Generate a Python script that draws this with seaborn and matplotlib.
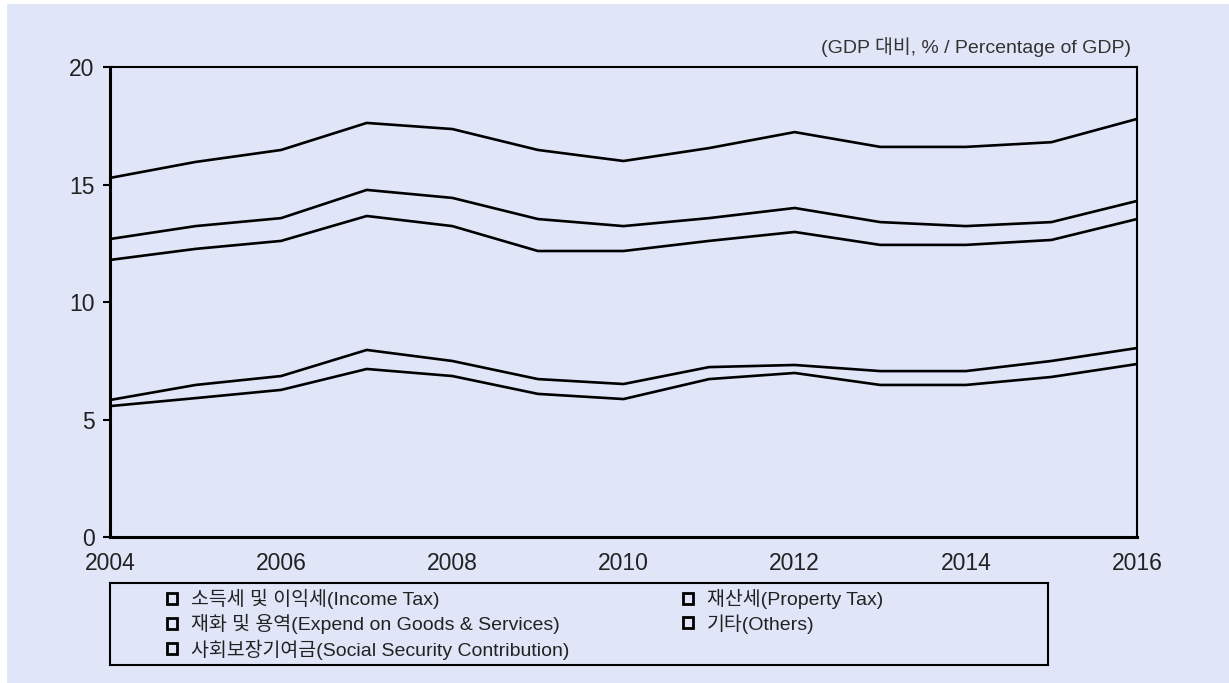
import numpy as np
import pandas as pd
import matplotlib
matplotlib.use("Agg")
import matplotlib.pyplot as plt
from matplotlib.patches import Patch, Rectangle
import seaborn as sns

years = list(range(2004, 2017))
series_names = [
    "소득세 및 이익세(Income Tax)",
    "재산세(Property Tax)",
    "재화 및 용역(Expend on Goods & Services)",
    "기타(Others)",
    "사회보장기여금(Social Security Contribution)",
]
income_tax = [5.57, 5.91, 6.26, 7.15, 6.85, 6.09, 5.87, 6.72, 6.98, 6.47, 6.47, 6.81, 7.36]
property_tax = [0.26, 0.56, 0.59, 0.81, 0.64, 0.63, 0.64, 0.51, 0.34, 0.59, 0.59, 0.68, 0.68]
goods_services = [5.96, 5.79, 5.75, 5.70, 5.74, 5.45, 5.66, 5.37, 5.66, 5.37, 5.37, 5.15, 5.49]
others = [0.89, 0.97, 0.97, 1.11, 1.20, 1.36, 1.06, 0.97, 1.02, 0.97, 0.80, 0.76, 0.77]
social_security = [2.60, 2.73, 2.90, 2.85, 2.93, 2.94, 2.77, 2.98, 3.23, 3.20, 3.37, 3.40, 3.49]
y_ticks = [0, 5, 10, 15, 20]
x_ticks = [2004, 2006, 2008, 2010, 2012, 2014, 2016]
unit_label = "(GDP 대비, % / Percentage of GDP)"

BG = "#E0E5F8"
FAM = ["Liberation Sans", "Noto Sans CJK KR", "DejaVu Sans"]

sns.set_theme(style="white")
plt.rcParams["font.family"] = FAM

components = [income_tax, property_tax, goods_services, others, social_security]
cum = np.cumsum(np.array(components), axis=0)
rows = []
for name, vals in zip(series_names, cum):
    for yr, v in zip(years, vals):
        rows.append({"year": yr, "value": v, "series": name})
df = pd.DataFrame(rows)

fig = plt.figure(figsize=(12.29, 6.83), dpi=100, facecolor="white")
fig.patches.append(Rectangle((7 / 1229, 0), 1 - 7 / 1229, 1 - 4 / 683,
                             transform=fig.transFigure, facecolor=BG,
                             edgecolor="none", zorder=-10))
ax = fig.add_axes([110 / 1229, 1 - 537 / 683, (1137 - 110) / 1229, (537 - 67) / 683])
ax.set_facecolor(BG)

sns.lineplot(data=df, x="year", y="value", hue="series",
             palette=["black"] * 5, linewidth=1.9, legend=False, ax=ax,
             estimator=None)

ax.set_xlim(2004, 2016)
ax.set_ylim(0, 20)
ax.set_xticks(x_ticks)
ax.set_yticks(y_ticks)
ax.set_xticklabels([str(x) for x in x_ticks], fontsize=16.5, color="#222222")
ax.set_yticklabels([str(y) for y in y_ticks], fontsize=16.5, color="#222222")
ax.tick_params(axis="y", which="major", direction="out", length=5, width=1.5,
               color="black", left=True, pad=6)
ax.tick_params(axis="x", which="major", length=0, pad=11)
ax.set_xlabel("")
ax.set_ylabel("")
for side in ["left", "bottom"]:
    ax.spines[side].set_linewidth(2.2)
    ax.spines[side].set_color("black")
for side in ["top", "right"]:
    ax.spines[side].set_linewidth(1.5)
    ax.spines[side].set_color("black")
    ax.spines[side].set_visible(True)

fig.text(1131 / 1229, 1 - 47 / 683, unit_label, ha="right", va="center",
         fontsize=14, color="#333333", family=FAM)

handles = [Patch(facecolor=BG, edgecolor="black", linewidth=2.0) for _ in series_names]
leg_ax = fig.add_axes([110 / 1229, 1 - 665 / 683, (1048 - 110) / 1229, (665 - 583) / 683])
leg_ax.set_facecolor(BG)
leg_ax.set_xticks([])
leg_ax.set_yticks([])
for s in leg_ax.spines.values():
    s.set_linewidth(1.5)
    s.set_color("black")

leg_kw = dict(loc="upper left", frameon=False, handlelength=0.5, handleheight=0.5,
              handletextpad=0.75, labelspacing=0.26, borderpad=0, borderaxespad=0,
              prop={"family": FAM, "size": 14})
col1 = [0, 2, 4]
col2 = [1, 3]
leg1 = leg_ax.legend([handles[i] for i in col1], [series_names[i] for i in col1],
                     bbox_to_anchor=(57 / 938, 1 - 6 / 82), **leg_kw)
leg_ax.add_artist(leg1)
leg2 = leg_ax.legend([handles[i] for i in col2], [series_names[i] for i in col2],
                     bbox_to_anchor=(573 / 938, 1 - 6 / 82), **leg_kw)
for lg in (leg1, leg2):
    for t in lg.get_texts():
        t.set_color("#222222")

fig.savefig("out.png", dpi=100, facecolor="white")
